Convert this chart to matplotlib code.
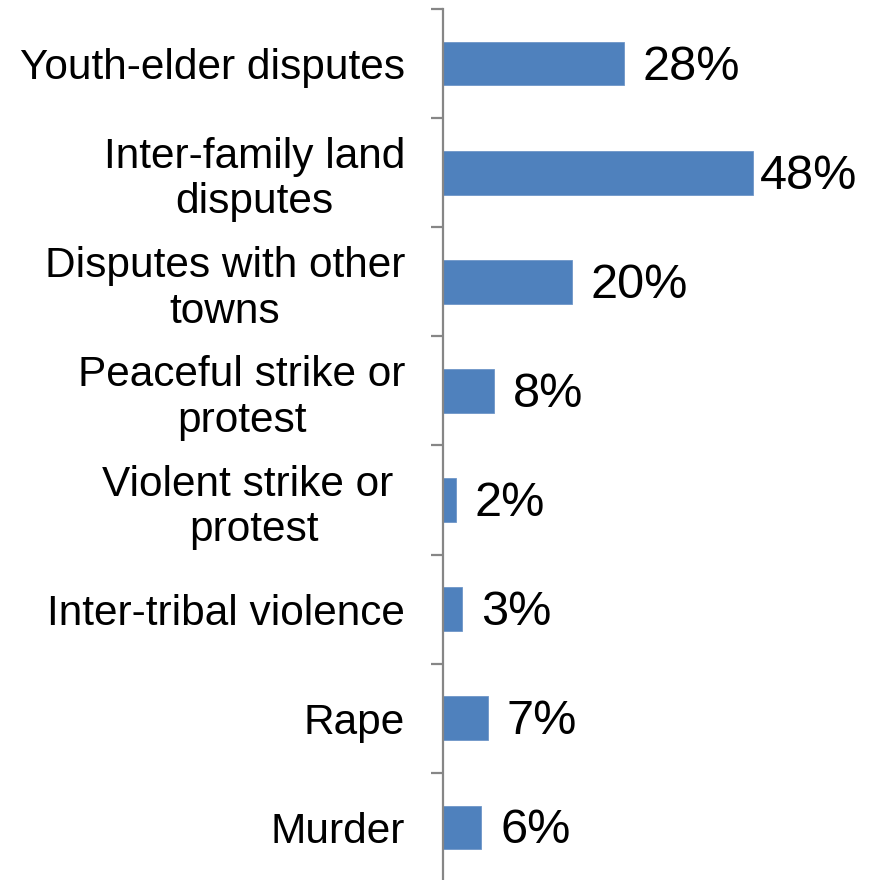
import matplotlib
matplotlib.use("Agg")
import matplotlib.pyplot as plt
import numpy as np

categories = ["Youth-elder disputes", "Inter-family land\ndisputes",
              "Disputes with other\ntowns", "Peaceful strike or\nprotest",
              "Violent strike or \nprotest", "Inter-tribal violence",
              "Rape", "Murder"]
values = [28, 48, 20, 8, 2, 3, 7, 6]
value_labels = ["28%", "48%", "20%", "8%", "2%", "3%", "7%", "6%"]

plt.rcParams['font.family'] = ['Liberation Sans', 'DejaVu Sans']

W, H = 871, 880
fig = plt.figure(figsize=(W / 100, H / 100), dpi=100)
px_per_unit = 6.46
xmax = 60
ax_left = 442.7
ax_top = 9
ax_bottom = 882
ax = fig.add_axes([ax_left / W, (H - ax_bottom) / H, xmax * px_per_unit / W, (ax_bottom - ax_top) / H])

y = np.arange(len(categories))
ax.barh(y, values, height=0.4, color="#4F81BD", edgecolor="#6f96c8", linewidth=0.6)
ax.set_xlim(0, xmax)
ax.set_ylim(len(categories) - 0.5, -0.5)

for sp in ["top", "right", "bottom"]:
    ax.spines[sp].set_visible(False)
ax.spines["left"].set_color("#868686")
ax.spines["left"].set_linewidth(1.6)
ax.set_xticks([])

ax.set_yticks(y)
ax.set_yticklabels(categories, fontsize=30.5, linespacing=1.17)
for lab in ax.get_yticklabels():
    lab.set_multialignment("center")
ax.tick_params(axis="y", which="major", length=0, pad=27)
ax.set_yticks(np.arange(len(categories) + 1) - 0.5, minor=True)
ax.tick_params(axis="y", which="minor", length=9, width=1.6, color="#868686")

for i, (v, lab) in enumerate(zip(values, value_labels)):
    pad = 5 if v == max(values) else 13.5
    ax.annotate(lab, xy=(v, i), xytext=(pad, -2.5), textcoords="offset points",
                va="center", ha="left", fontsize=35)

fig.savefig("out.png", dpi=100)
